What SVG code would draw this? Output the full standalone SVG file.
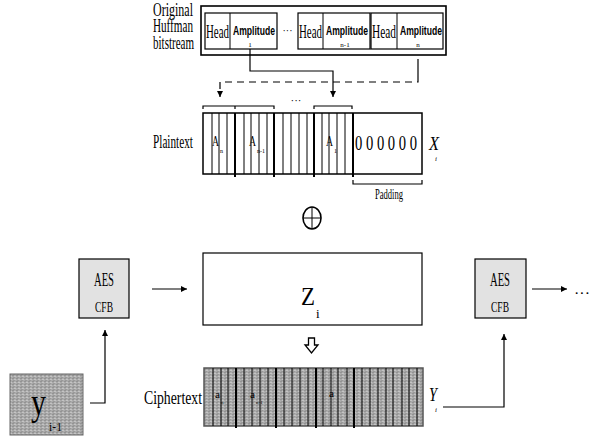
<svg xmlns="http://www.w3.org/2000/svg" width="591" height="439" viewBox="0 0 591 439">
<defs>
<pattern id="stip" width="4" height="3" patternUnits="userSpaceOnUse">
<rect width="4" height="3" fill="#ababab"/>
<rect x="0" y="0" width="2" height="1" fill="#939393"/>
<rect x="2" y="1" width="2" height="1" fill="#c4c4c4"/>
<rect x="1" y="2" width="2" height="1" fill="#9a9a9a"/>
</pattern>
<marker id="ah" viewBox="0 0 10 10" refX="10" refY="5" markerWidth="6" markerHeight="6" orient="auto" markerUnits="userSpaceOnUse">
<path d="M0,0 L10,5 L0,10 z" fill="#000"/>
</marker>
</defs>
<style>
.t{font-family:"Liberation Serif","Times New Roman",serif;fill:#000}
.b{font-family:"Liberation Sans",Arial,sans-serif;font-weight:bold;fill:#000}
.box{fill:#fff;stroke:#000;stroke-width:1.2}
.thin{stroke:#000;stroke-width:1}
.thick{stroke:#000;stroke-width:2}
.ln{fill:none;stroke:#000;stroke-width:1.2}
.dash{fill:none;stroke:#000;stroke-width:1.2;stroke-dasharray:7 5}
.aes{fill:#e2e2e2;stroke:#000;stroke-width:1.2}
</style>
<rect width="591" height="439" fill="#fff"/>

<g id="bitstream">
<text class="t" x="153" y="16" font-size="18" textLength="40" lengthAdjust="spacingAndGlyphs">Original</text>
<text class="t" x="153" y="32" font-size="18" textLength="40" lengthAdjust="spacingAndGlyphs">Huffman</text>
<text class="t" x="153" y="49" font-size="18" textLength="41" lengthAdjust="spacingAndGlyphs">bitstream</text>
<rect x="201" y="6" width="245" height="49" fill="#fff" stroke="#000" stroke-width="1.6"/>
<rect class="box" x="205" y="13" width="72" height="36"/>
<line class="thin" x1="230" y1="13" x2="230" y2="49"/>
<rect class="box" x="298" y="13" width="72" height="36"/>
<line class="thin" x1="323" y1="13" x2="323" y2="49"/>
<rect class="box" x="371" y="13" width="72" height="36"/>
<line class="thin" x1="397" y1="13" x2="397" y2="49"/>
<text class="t" x="206" y="38" font-size="19" textLength="23" lengthAdjust="spacingAndGlyphs">Head</text>
<text class="t" x="299" y="38" font-size="19" textLength="23" lengthAdjust="spacingAndGlyphs">Head</text>
<text class="t" x="372" y="38" font-size="19" textLength="24" lengthAdjust="spacingAndGlyphs">Head</text>
<text class="b" x="233" y="35" font-size="13" textLength="42" lengthAdjust="spacingAndGlyphs">Amplitude</text>
<text class="b" x="326" y="35" font-size="13" textLength="42" lengthAdjust="spacingAndGlyphs">Amplitude</text>
<text class="b" x="400" y="35" font-size="13" textLength="42" lengthAdjust="spacingAndGlyphs">Amplitude</text>
<text class="t" x="250" y="47" font-size="7" text-anchor="middle">1</text>
<text class="t" x="345" y="47" font-size="7" text-anchor="middle">n-1</text>
<text class="t" x="418" y="47" font-size="7" text-anchor="middle">n</text>
<text class="t" x="287.5" y="34" font-size="10" text-anchor="middle">···</text>
</g>

<g id="plaintext">
<text class="t" x="153" y="148" font-size="19" textLength="40" lengthAdjust="spacingAndGlyphs">Plaintext</text>
<path class="ln" d="M203,109 V106 H235 V109 M235,106 H274 V109 M314,109 V106 H352 V109"/>
<text class="t" x="296" y="104" font-size="11" text-anchor="middle">···</text>
<rect x="203" y="113" width="219" height="61" fill="#fff" stroke="#000" stroke-width="1.5"/>
<g class="thin">
<line x1="212" y1="113" x2="212" y2="174"/><line x1="219" y1="113" x2="219" y2="174"/><line x1="227" y1="113" x2="227" y2="174"/>
<line x1="244" y1="113" x2="244" y2="174"/><line x1="251" y1="113" x2="251" y2="174"/><line x1="259" y1="113" x2="259" y2="174"/><line x1="267" y1="113" x2="267" y2="174"/>
<line x1="283" y1="113" x2="283" y2="174"/><line x1="291" y1="113" x2="291" y2="174"/><line x1="299" y1="113" x2="299" y2="174"/><line x1="307" y1="113" x2="307" y2="174"/>
<line x1="322" y1="113" x2="322" y2="174"/><line x1="329" y1="113" x2="329" y2="174"/><line x1="337" y1="113" x2="337" y2="174"/><line x1="345" y1="113" x2="345" y2="174"/>
</g>
<g class="thick">
<line x1="235" y1="113" x2="235" y2="177"/><line x1="274" y1="113" x2="274" y2="177"/><line x1="314" y1="113" x2="314" y2="177"/><line x1="353" y1="113" x2="353" y2="177"/>
</g>
<text class="t" x="212" y="146" font-size="14" textLength="7" lengthAdjust="spacingAndGlyphs">A</text><text class="t" x="220" y="153" font-size="6">n</text>
<text class="t" x="249" y="146" font-size="14" textLength="7" lengthAdjust="spacingAndGlyphs">A</text><text class="t" x="257" y="153" font-size="6">n-1</text>
<text class="t" x="326" y="146" font-size="14" textLength="7" lengthAdjust="spacingAndGlyphs">A</text><text class="t" x="334" y="153" font-size="6">1</text>
<text class="t" x="355" y="150" font-size="20" textLength="62" lengthAdjust="spacingAndGlyphs">0 0 0 0 0 0</text>
<text class="t" x="429" y="150" font-size="19" font-style="italic" textLength="10" lengthAdjust="spacingAndGlyphs">X</text>
<text class="t" x="435" y="161" font-size="7" font-style="italic">i</text>
<path class="ln" d="M353,180 V184 H422 V180"/>
<text class="t" x="389" y="199" font-size="14" text-anchor="middle" textLength="28" lengthAdjust="spacingAndGlyphs">Padding</text>
</g>

<g id="xor">
<ellipse cx="312" cy="218" rx="9" ry="11" fill="none" stroke="#000" stroke-width="1.6"/>
<line class="thin" x1="303" y1="218" x2="321" y2="218" stroke-width="1.6"/>
<line class="thin" x1="312" y1="207" x2="312" y2="229" stroke-width="1.6"/>
</g>

<g id="aes-left">
<rect class="aes" x="79" y="259" width="50" height="59"/>
<text class="t" x="104" y="286" font-size="18" text-anchor="middle" textLength="20" lengthAdjust="spacingAndGlyphs">AES</text>
<text class="t" x="104" y="312" font-size="14" text-anchor="middle" textLength="18" lengthAdjust="spacingAndGlyphs">CFB</text>
</g>

<g id="z">
<rect class="box" x="203" y="253" width="219" height="72"/>
<text class="t" x="301" y="305" font-size="26" textLength="14" lengthAdjust="spacingAndGlyphs">Z</text>
<text class="t" x="316" y="318" font-size="13">i</text>
</g>

<g id="aes-right">
<rect class="aes" x="475" y="259" width="51" height="59"/>
<text class="t" x="500" y="286" font-size="18" text-anchor="middle" textLength="20" lengthAdjust="spacingAndGlyphs">AES</text>
<text class="t" x="500" y="312" font-size="14" text-anchor="middle" textLength="18" lengthAdjust="spacingAndGlyphs">CFB</text>
<text class="t" x="574" y="298" font-size="14" textLength="16" lengthAdjust="spacingAndGlyphs">···</text>
</g>

<g id="ciphertext">
<text class="t" x="144" y="404" font-size="19" textLength="58" lengthAdjust="spacingAndGlyphs">Ciphertext</text>
<rect x="204" y="368" width="219" height="58" fill="url(#stip)" stroke="#555" stroke-width="1.5"/>
<g class="thin">
<line x1="213" y1="368" x2="213" y2="426"/><line x1="221" y1="368" x2="221" y2="426"/><line x1="228" y1="368" x2="228" y2="426"/>
<line x1="244" y1="368" x2="244" y2="426"/><line x1="252" y1="368" x2="252" y2="426"/><line x1="260" y1="368" x2="260" y2="426"/><line x1="268" y1="368" x2="268" y2="426"/>
<line x1="284" y1="368" x2="284" y2="426"/><line x1="292" y1="368" x2="292" y2="426"/><line x1="300" y1="368" x2="300" y2="426"/><line x1="308" y1="368" x2="308" y2="426"/>
<line x1="323" y1="368" x2="323" y2="426"/><line x1="331" y1="368" x2="331" y2="426"/><line x1="338" y1="368" x2="338" y2="426"/><line x1="347" y1="368" x2="347" y2="426"/>
<line x1="362" y1="368" x2="362" y2="426"/><line x1="370" y1="368" x2="370" y2="426"/><line x1="378" y1="368" x2="378" y2="426"/><line x1="386" y1="368" x2="386" y2="426"/>
<line x1="393" y1="368" x2="393" y2="426"/><line x1="402" y1="368" x2="402" y2="426"/><line x1="409" y1="368" x2="409" y2="426"/><line x1="417" y1="368" x2="417" y2="426"/>
</g>
<g class="thick">
<line x1="236" y1="368" x2="236" y2="428"/><line x1="276" y1="368" x2="276" y2="428"/><line x1="316" y1="368" x2="316" y2="428"/><line x1="354" y1="368" x2="354" y2="428"/>
</g>
<text class="t" x="215" y="398" font-size="10" fill="#333" textLength="5" lengthAdjust="spacingAndGlyphs">a</text><text class="t" x="221" y="404" font-size="5" fill="#333">n</text>
<text class="t" x="250" y="398" font-size="10" fill="#333" textLength="5" lengthAdjust="spacingAndGlyphs">a</text><text class="t" x="256" y="404" font-size="5" fill="#333">n-1</text>
<text class="t" x="329" y="397" font-size="10" fill="#333" textLength="5" lengthAdjust="spacingAndGlyphs">a</text>
<text class="t" x="429" y="401" font-size="18" font-style="italic" textLength="8" lengthAdjust="spacingAndGlyphs">Y</text>
<text class="t" x="435" y="412" font-size="7" font-style="italic">i</text>
</g>

<g id="y-prev">
<rect x="10" y="374" width="73" height="61" fill="url(#stip)" stroke="#666" stroke-width="1"/>
<text class="t" x="31" y="415" font-size="38" textLength="15" lengthAdjust="spacingAndGlyphs">y</text>
<text class="t" x="49" y="431" font-size="12" textLength="13" lengthAdjust="spacingAndGlyphs">i-1</text>
</g>

<g id="connectors">
<path class="ln" d="M250,49 V71 H333 V97" marker-end="url(#ah)"/>
<path class="ln" d="M418,59 V76"/>
<path class="dash" d="M418,76 V82 H220 V97" marker-end="url(#ah)"/>
<line class="ln" x1="152" y1="289" x2="187" y2="289" marker-end="url(#ah)"/>
<line class="ln" x1="532" y1="289" x2="567" y2="289" marker-end="url(#ah)"/>
<path d="M308.5,338 H314.5 V345 H318 L311.5,353 L305,345 H308.5 Z" fill="#fff" stroke="#000" stroke-width="1.3"/>
<path class="ln" d="M90,403 H105 V330" marker-end="url(#ah)"/>
<path class="ln" d="M443,407 H504 V334" marker-end="url(#ah)"/>
</g>
</svg>
